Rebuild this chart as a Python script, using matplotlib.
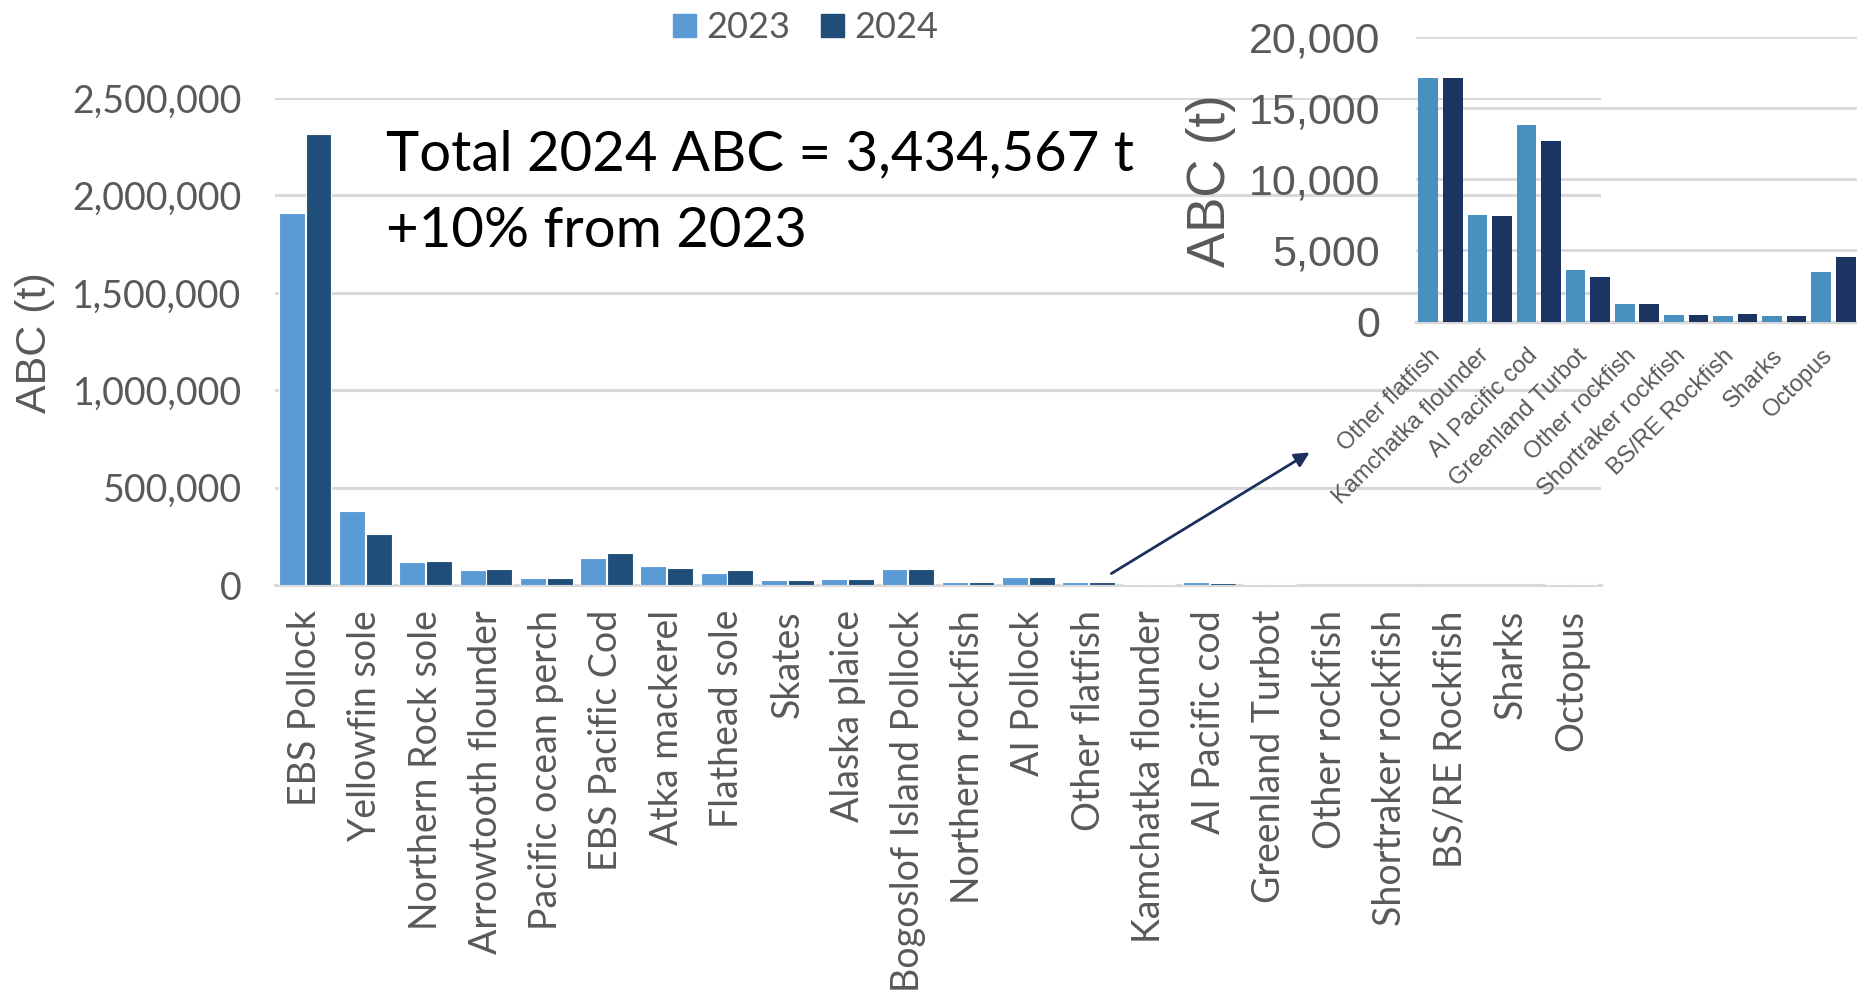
import matplotlib
matplotlib.use("Agg")
import matplotlib.pyplot as plt
import matplotlib.transforms as mtransforms
import numpy as np
from matplotlib.patches import Patch, FancyArrowPatch

# ABC by stock, tonnes
species = ["EBS Pollock", "Yellowfin sole", "Northern Rock sole", "Arrowtooth flounder",
           "Pacific ocean perch", "EBS Pacific Cod", "Atka mackerel", "Flathead sole",
           "Skates", "Alaska plaice", "Bogoslof Island Pollock", "Northern rockfish",
           "AI Pollock", "Other flatfish", "Kamchatka flounder", "AI Pacific cod",
           "Greenland Turbot", "Other rockfish", "Shortraker rockfish", "BS/RE Rockfish",
           "Sharks", "Octopus"]
abc_2023 = [1910000, 378000, 116000, 77000, 38500, 141000, 97500, 64000,
            24500, 33000, 81500, 13500, 39000, 17100, 7510, 13760,
            3650, 1210, 460, 390, 370, 3510]
abc_2024 = [2313000, 261000, 121000, 83500, 38500, 166000, 89500, 76000,
            24000, 33000, 81500, 13500, 39000, 17100, 7440, 12700,
            3110, 1210, 460, 510, 370, 4510]

# small stocks shown in the zoomed panel
small_start = species.index("Other flatfish")
small_species = species[small_start:]
small_2023 = abc_2023[small_start:]
small_2024 = abc_2024[small_start:]

main_c23, main_c24 = "#5B9BD5", "#1F4E79"
inset_c23, inset_c24 = "#4A90BE", "#1C3461"
grid_c = "#D9D9D9"
text_c = "#595959"
calib = ["Lato", "DejaVu Sans"]
arial = ["Liberation Sans", "DejaVu Sans"]

W, H = 1858, 1007
fig = plt.figure(figsize=(W / 100, H / 100), dpi=100)


def box(x0, y0, x1, y1):
    # pixel box -> figure fraction rect
    return [x0 / W, 1 - y1 / H, (x1 - x0) / W, (y1 - y0) / H]


# main chart
ax = fig.add_axes(box(275, 98, 1601, 585))
ax.patch.set_alpha(0)
x = np.arange(len(species))
ax.bar(x - 0.222, abc_2023, width=0.43, color=main_c23, edgecolor="white", linewidth=0.8, zorder=3)
ax.bar(x + 0.222, abc_2024, width=0.43, color=main_c24, edgecolor="white", linewidth=0.8, zorder=3)
ax.set_xlim(-0.5, len(species) - 0.5)
ax.set_ylim(0, 2500000)
ax.set_yticks(np.arange(0, 2500001, 500000))
ax.set_yticklabels([f"{v:,}" for v in range(0, 2500001, 500000)],
                   family=calib, fontsize=27, color=text_c)
ax.set_xticks(x)
ax.set_xticklabels(species, rotation=90, family=calib, fontsize=27, color=text_c,
                   va="top", ha="center")
ax.tick_params(axis="y", length=0, pad=24)
ax.tick_params(axis="x", length=0, pad=18)
ax.yaxis.grid(True, color=grid_c, linewidth=2.2, zorder=0)
for s in ["top", "right", "left"]:
    ax.spines[s].set_visible(False)
ax.spines["bottom"].set_color(grid_c)
ax.spines["bottom"].set_linewidth(2.2)
fig.text(35 / W, 1 - 343 / H, "ABC (t)", rotation=90, family=arial, fontsize=31,
         color=text_c, ha="center", va="center")

# inset panel for the small stocks
ins = fig.add_axes(box(1416, 36.5, 1858, 321.7))
ins.patch.set_alpha(0)
xs = np.arange(len(small_species))
ins.bar(xs - 0.25, small_2023, width=0.4, color=inset_c23, zorder=3)
ins.bar(xs + 0.25, small_2024, width=0.4, color=inset_c24, zorder=3)
ins.set_xlim(-0.5, len(small_species) - 0.5)
ins.set_ylim(0, 20000)
ins.set_yticks(np.arange(0, 20001, 5000))
ins.set_yticklabels([f"{v:,}" for v in range(0, 20001, 5000)],
                    family=arial, fontsize=31, color=text_c)
ins.set_xticks(xs)
ins.set_xticklabels([])
ins.tick_params(axis="y", length=0, pad=26)
ins.tick_params(axis="x", length=0)
# slanted category labels, nudged down-left from each tick
label_trans = (mtransforms.blended_transform_factory(ins.transData, ins.transAxes)
               + mtransforms.ScaledTranslation(-12 / 100, -23 / 100, fig.dpi_scale_trans))
for xi, name in zip(xs, small_species):
    ins.text(xi, 0, name, transform=label_trans, rotation=45, rotation_mode="anchor",
             ha="right", va="top", family=arial, fontsize=17, color=text_c)
ins.yaxis.grid(True, color=grid_c, linewidth=2, zorder=0)
for s in ["top", "right", "left"]:
    ins.spines[s].set_visible(False)
ins.spines["bottom"].set_color(grid_c)
ins.spines["bottom"].set_linewidth(2.5)
fig.text(1211 / W, 1 - 181 / H, "ABC (t)", rotation=90, family=arial, fontsize=38,
         color=text_c, ha="center", va="center")

# arrow from the small stocks in the main chart to the inset
fig.add_artist(FancyArrowPatch(
    (1109 / W, 1 - 575 / H), (1312 / W, 1 - 451 / H), transform=fig.transFigure,
    arrowstyle="-|>", mutation_scale=22, color="#1C2F5E", linewidth=2))

# total annotation
fig.text(386 / W, 1 - 170 / H, "Total 2024 ABC = 3,434,567 t", family=calib,
         fontsize=40.5, color="black", va="baseline")
fig.text(386 / W, 1 - 247 / H, "+10% from 2023", family=calib,
         fontsize=40.5, color="black", va="baseline")

# legend
handles = [Patch(color=main_c23, label="2023"), Patch(color=main_c24, label="2024")]
fig.legend(handles=handles, loc="center", bbox_to_anchor=(806 / W, 1 - 28 / H), ncol=2,
           frameon=False, prop={"family": calib, "size": 26}, labelcolor=text_c,
           handlelength=0.62, handleheight=0.62, handletextpad=0.3, columnspacing=0.85)

fig.savefig("out.png", dpi=100)
